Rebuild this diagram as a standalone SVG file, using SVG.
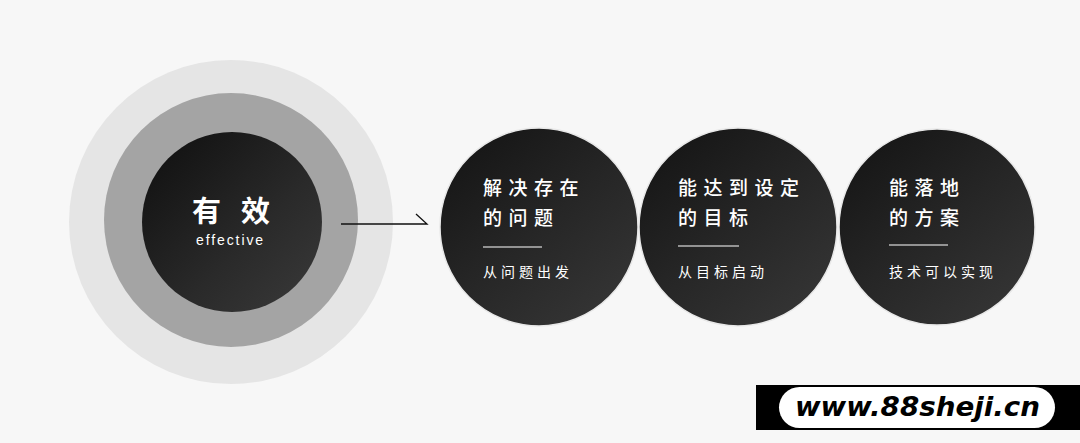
<svg xmlns="http://www.w3.org/2000/svg" width="1080" height="443" viewBox="0 0 1080 443">
<defs>
<linearGradient id="dk" x1="0" y1="0" x2="1" y2="1">
<stop offset="0" stop-color="#0e0e0e"/>
<stop offset="0.6" stop-color="#2a2a2a"/>
<stop offset="1" stop-color="#3a3a3a"/>
</linearGradient>
<linearGradient id="dk2" x1="0" y1="0" x2="0.8" y2="1">
<stop offset="0" stop-color="#121212"/>
<stop offset="0.55" stop-color="#262626"/>
<stop offset="1" stop-color="#353535"/>
</linearGradient>
<style>
.t{font-family:"Noto Sans CJK SC","Noto Sans",sans-serif;fill:#fff;}
.e{font-family:"Liberation Sans",Arial,sans-serif;fill:#fff;font-size:14px;letter-spacing:1.9px;}
.h{font-size:19px;letter-spacing:6.5px;font-weight:500;}
.s{font-size:14px;letter-spacing:4px;}
.ln{stroke:#fff;stroke-width:1.2;}
.c{fill:url(#dk2);stroke:#e8e8e8;stroke-width:1.5;}
</style>
</defs>
<rect width="1080" height="443" fill="#f7f7f7"/>
<g id="core">
<circle cx="231" cy="222" r="162" fill="#e5e5e5"/>
<circle cx="231" cy="220" r="127" fill="#a4a4a4"/>
<circle cx="232" cy="222" r="90" fill="url(#dk)"/>
<text class="t" x="192" y="222" font-size="29" font-weight="700" letter-spacing="20">有效</text>
<text class="e" x="196" y="245">effective</text>
</g>
<g id="connectors">
<path d="M341 224 H427 L416 214" fill="none" stroke="#111" stroke-width="1.3"/>
</g>
<g id="n1">
<circle class="c" cx="539" cy="227" r="99"/>
<text class="t h" x="483" y="195">解决存在</text>
<text class="t h" x="483" y="225">的问题</text>
<line class="ln" x1="483" y1="247" x2="542" y2="247"/>
<text class="t s" x="483" y="277">从问题出发</text>
</g>
<g id="n2">
<circle class="c" cx="738" cy="227" r="99"/>
<text class="t h" x="678" y="195">能达到设定</text>
<text class="t h" x="678" y="225">的目标</text>
<line class="ln" x1="678" y1="246" x2="739" y2="246"/>
<text class="t s" x="678" y="277">从目标启动</text>
</g>
<g id="n3">
<circle class="c" cx="937" cy="227" r="98"/>
<text class="t h" x="889" y="195">能落地</text>
<text class="t h" x="889" y="225">的方案</text>
<line class="ln" x1="889" y1="245" x2="948" y2="245"/>
<text class="t s" x="889" y="277">技术可以实现</text>
</g>
<g id="watermark">
<rect x="756" y="385" width="324" height="45" fill="#000"/>
<rect x="779" y="387" width="276" height="41" rx="20.5" fill="#fff"/>
<text x="795" y="416" font-family="DejaVu Sans,sans-serif" font-size="26" font-weight="700" font-style="italic" textLength="245" lengthAdjust="spacingAndGlyphs" fill="#000">www.88sheji.cn</text>
</g>
</svg>
